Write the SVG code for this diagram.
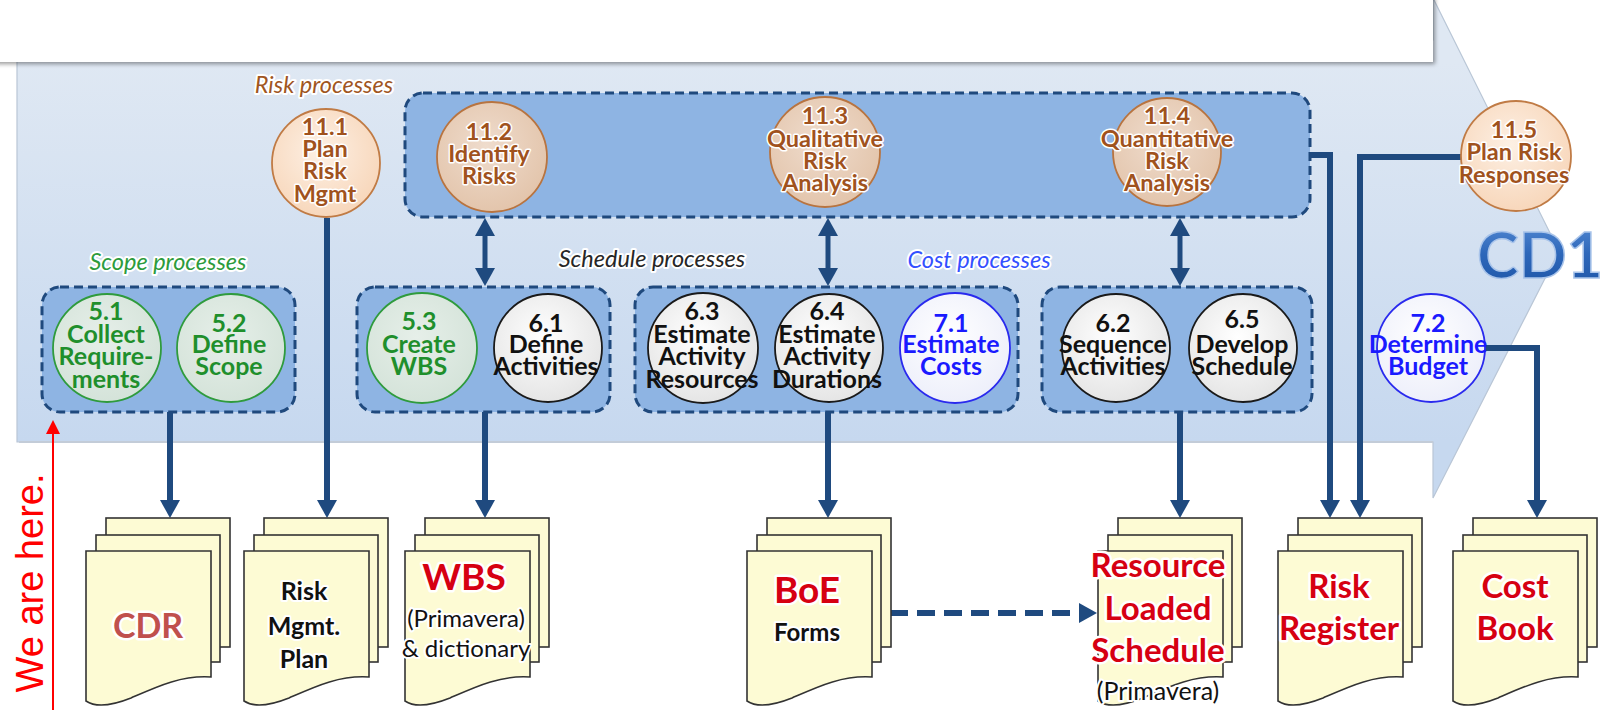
<svg xmlns="http://www.w3.org/2000/svg" width="1603" height="710" viewBox="0 0 1603 710">
<defs>
  <linearGradient id="arrowGrad" x1="0" y1="62" x2="0" y2="442" gradientUnits="userSpaceOnUse">
    <stop offset="0" stop-color="#dfe8f3"/>
    <stop offset="1" stop-color="#c6d8ef"/>
  </linearGradient>
  <radialGradient id="peach" cx="0.45" cy="0.4" r="0.65">
    <stop offset="0" stop-color="#fdf0e4"/>
    <stop offset="1" stop-color="#f7d5b8"/>
  </radialGradient>
  <radialGradient id="tan" cx="0.45" cy="0.4" r="0.65">
    <stop offset="0" stop-color="#efdccd"/>
    <stop offset="1" stop-color="#e2c3a9"/>
  </radialGradient>
  <radialGradient id="greenFill" cx="0.45" cy="0.4" r="0.65">
    <stop offset="0" stop-color="#e6efe9"/>
    <stop offset="1" stop-color="#d3e2d8"/>
  </radialGradient>
  <radialGradient id="whiteFill" cx="0.45" cy="0.4" r="0.65">
    <stop offset="0" stop-color="#ffffff"/>
    <stop offset="1" stop-color="#e3e3e3"/>
  </radialGradient>
  <radialGradient id="blueFill" cx="0.45" cy="0.4" r="0.65">
    <stop offset="0" stop-color="#ffffff"/>
    <stop offset="1" stop-color="#eceefa"/>
  </radialGradient>
  <linearGradient id="cdGrad" x1="0" y1="0" x2="0" y2="1">
    <stop offset="0" stop-color="#5a8fd6"/>
    <stop offset="0.5" stop-color="#2d67ba"/>
    <stop offset="1" stop-color="#1d55a6"/>
  </linearGradient>
  <filter id="shadow" x="-5%" y="-20%" width="110%" height="150%">
    <feDropShadow dx="2" dy="2" stdDeviation="2" flood-color="#000" flood-opacity="0.4"/>
  </filter>
  <filter id="soft" x="-10%" y="-10%" width="120%" height="120%">
    <feGaussianBlur stdDeviation="1.2"/>
  </filter>
  <marker id="ah" viewBox="0 0 18 20" refX="4" refY="10" markerWidth="18" markerHeight="20" markerUnits="userSpaceOnUse" orient="auto-start-reverse">
    <path d="M0,0 L18,10 L0,20 Z" fill="#1f4a7f"/>
  </marker>
  <marker id="ahRed" viewBox="0 0 14 14" refX="2" refY="7" markerWidth="14" markerHeight="14" markerUnits="userSpaceOnUse" orient="auto">
    <path d="M0,0 L14,7 L0,14 Z" fill="#ff0000"/>
  </marker>
  <g id="docStack">
    <rect x="20" y="-33" width="124" height="129" fill="#fdfbd4" stroke="#333" stroke-width="1.6"/>
    <rect x="10" y="-16" width="124" height="127" fill="#fdfbd4" stroke="#333" stroke-width="1.6"/>
    <path d="M0,0 H125 V126 C95,124 70,136 45,147 C30,153 12,158 0,150 Z" fill="#fdfbd4" stroke="#333" stroke-width="1.6"/>
  </g>
  <style>
    .box { fill: #8eb4e3; stroke: #1f497d; stroke-width: 3; stroke-dasharray: 9 5; }
    .conn { fill: none; stroke: #1f4a7f; stroke-width: 6; }
    .dashconn { fill: none; stroke: #1f4a7f; stroke-width: 6; stroke-dasharray: 18 9; }
    .riskC { fill: url(#peach); stroke: #c07b45; stroke-width: 1.8; }
    .riskIn { fill: url(#tan); stroke: #b87440; stroke-width: 1.8; }
    .greenC { fill: url(#greenFill); stroke: #2f9b3d; stroke-width: 1.8; }
    .blackC { fill: url(#whiteFill); stroke: #1a1a1a; stroke-width: 1.8; }
    .blueC { fill: url(#blueFill); stroke: #2a2aee; stroke-width: 1.8; }
    text { font-family: Lato, "Liberation Sans", sans-serif; text-anchor: middle; }
    .ct { font-weight: bold; font-size: 25px; }
    .rt { font-weight: bold; font-size: 23.5px; fill: #a0521d; stroke: #fff; stroke-width: 3; stroke-linejoin: round; paint-order: stroke; }
    .gt { fill: #1f8f2c; }
    .kt { fill: #111; }
    .bt { fill: #1a1aff; }
    .lbl { font-style: italic; font-size: 23.5px; stroke: #fff; stroke-width: 4; stroke-linejoin: round; paint-order: stroke; }
    .dred { font-weight: bold; fill: #d60012; stroke: #fff; stroke-width: 5; stroke-linejoin: round; paint-order: stroke; }
    .dblk { fill: #111; stroke: #fff; stroke-width: 4; stroke-linejoin: round; paint-order: stroke; }
  </style>
</defs>

<!-- big process arrow -->
<g id="process-arrow">
  <polygon points="17,40 1433,40 1433,-2 1559,251 1433,498 1433,442 17,442" fill="url(#arrowGrad)" stroke="#b9c6d6" stroke-width="1.2"/>
  <line x1="19" y1="60" x2="19" y2="442" stroke="#8c8c8c" stroke-width="3" filter="url(#soft)"/>
  <line x1="19" y1="442" x2="1433" y2="442" stroke="#c3ccd8" stroke-width="2"/>
  <rect x="-20" y="-20" width="1453" height="82" fill="#ffffff" filter="url(#shadow)"/>
</g>

<!-- We are here -->
<g id="we-are-here">
  <line x1="53" y1="710" x2="53" y2="432" stroke="#ff0000" stroke-width="2" marker-end="url(#ahRed)"/>
  <text transform="translate(43,583) rotate(-90)" style="font-family:'Liberation Sans',Arial,sans-serif;font-size:38px;fill:#ff0000">We are here.</text>
</g>

<!-- labels -->
<text class="lbl" x="324" y="93" fill="#a0561f">Risk processes</text>
<text class="lbl" x="168" y="270" fill="#2c9b3c">Scope processes</text>
<text class="lbl" x="652" y="267" fill="#262626">Schedule processes</text>
<text class="lbl" x="979" y="268" fill="#3350ff">Cost processes</text>

<g id="cd1">
  <text x="1477" y="278" style="text-anchor:start;font-weight:bold;font-size:63px;fill:url(#cdGrad);stroke:#a9c4ea;stroke-width:1.5">CD1</text>
</g>

<!-- group boxes -->
<g id="grp-risk"><rect class="box" x="405" y="93" width="905" height="124" rx="18"/></g>
<g id="grp-scope"><rect class="box" x="42" y="287" width="253" height="125" rx="18"/></g>
<g id="grp-wbs-activities"><rect class="box" x="357" y="287" width="253" height="125" rx="18"/></g>
<g id="grp-estimates"><rect class="box" x="635" y="287" width="383" height="125" rx="18"/></g>
<g id="grp-schedule"><rect class="box" x="1042" y="287" width="270" height="125" rx="18"/></g>

<!-- connectors -->
<g id="connectors">
  <path class="conn" d="M170,412 V504" marker-end="url(#ah)"/>
  <path class="conn" d="M327,218 V504" marker-end="url(#ah)"/>
  <path class="conn" d="M485,412 V504" marker-end="url(#ah)"/>
  <path class="conn" d="M828,412 V504" marker-end="url(#ah)"/>
  <path class="conn" d="M1180,412 V504" marker-end="url(#ah)"/>
  <path class="conn" d="M1310,155 H1330 V504" marker-end="url(#ah)"/>
  <path class="conn" d="M1461,157 H1360 V504" marker-end="url(#ah)"/>
  <path class="conn" d="M1485,348 H1537 V504" marker-end="url(#ah)"/>
  <path class="conn" style="stroke-width:5" d="M485,232 V272" marker-start="url(#ah)" marker-end="url(#ah)"/>
  <path class="conn" style="stroke-width:5" d="M828,232 V272" marker-start="url(#ah)" marker-end="url(#ah)"/>
  <path class="conn" style="stroke-width:5" d="M1180,232 V272" marker-start="url(#ah)" marker-end="url(#ah)"/>
  <path class="dashconn" d="M890,613 H1083" marker-end="url(#ah)"/>
</g>

<!-- risk nodes -->
<g id="n11-1">
  <circle class="riskC" cx="326" cy="163" r="54"/>
  <text class="rt"><tspan x="325" y="135">11.1</tspan><tspan x="325" y="157">Plan</tspan><tspan x="325" y="179">Risk</tspan><tspan x="325" y="202">Mgmt</tspan></text>
</g>
<g id="n11-2">
  <circle class="riskIn" cx="492" cy="157" r="55"/>
  <text class="rt"><tspan x="489" y="140">11.2</tspan><tspan x="489" y="162">Identify</tspan><tspan x="489" y="184">Risks</tspan></text>
</g>
<g id="n11-3">
  <circle class="riskIn" cx="825" cy="152" r="55"/>
  <text class="rt"><tspan x="825" y="124">11.3</tspan><tspan x="825" y="147">Qualitative</tspan><tspan x="825" y="169">Risk</tspan><tspan x="825" y="191">Analysis</tspan></text>
</g>
<g id="n11-4">
  <circle class="riskIn" cx="1167" cy="152" r="54"/>
  <text class="rt"><tspan x="1167" y="124">11.4</tspan><tspan x="1167" y="147">Quantitative</tspan><tspan x="1167" y="169">Risk</tspan><tspan x="1167" y="191">Analysis</tspan></text>
</g>
<g id="n11-5">
  <circle class="riskC" cx="1516" cy="156" r="55"/>
  <text class="rt"><tspan x="1514" y="138">11.5</tspan><tspan x="1514" y="160">Plan Risk</tspan><tspan x="1514" y="183">Responses</tspan></text>
</g>

<!-- scope nodes -->
<g id="n5-1">
  <circle class="greenC" cx="107" cy="348" r="54"/>
  <text class="ct gt"><tspan x="106" y="320">5.1</tspan><tspan x="106" y="343">Collect</tspan><tspan x="106" y="365">Require-</tspan><tspan x="106" y="388">ments</tspan></text>
</g>
<g id="n5-2">
  <circle class="greenC" cx="231" cy="348" r="54"/>
  <text class="ct gt"><tspan x="229" y="332">5.2</tspan><tspan x="229" y="353">Define</tspan><tspan x="229" y="375">Scope</tspan></text>
</g>
<g id="n5-3">
  <circle class="greenC" cx="422" cy="348" r="55"/>
  <text class="ct gt"><tspan x="419" y="330">5.3</tspan><tspan x="419" y="353">Create</tspan><tspan x="419" y="375">WBS</tspan></text>
</g>
<g id="n6-1">
  <circle class="blackC" cx="548" cy="348" r="54"/>
  <text class="ct kt"><tspan x="546" y="332">6.1</tspan><tspan x="546" y="353">Define</tspan><tspan x="546" y="375">Activities</tspan></text>
</g>
<g id="n6-3">
  <circle class="blackC" cx="703" cy="348" r="55"/>
  <text class="ct kt"><tspan x="702" y="320">6.3</tspan><tspan x="702" y="343">Estimate</tspan><tspan x="702" y="365">Activity</tspan><tspan x="702" y="388">Resources</tspan></text>
</g>
<g id="n6-4">
  <circle class="blackC" cx="829" cy="348" r="54"/>
  <text class="ct kt"><tspan x="827" y="320">6.4</tspan><tspan x="827" y="343">Estimate</tspan><tspan x="827" y="365">Activity</tspan><tspan x="827" y="388">Durations</tspan></text>
</g>
<g id="n7-1">
  <circle class="blueC" cx="955" cy="348" r="55"/>
  <text class="ct bt"><tspan x="951" y="332">7.1</tspan><tspan x="951" y="353">Estimate</tspan><tspan x="951" y="375">Costs</tspan></text>
</g>
<g id="n6-2">
  <circle class="blackC" cx="1116" cy="348" r="54"/>
  <text class="ct kt"><tspan x="1113" y="332">6.2</tspan><tspan x="1113" y="353">Sequence</tspan><tspan x="1113" y="375">Activities</tspan></text>
</g>
<g id="n6-5">
  <circle class="blackC" cx="1243" cy="348" r="54"/>
  <text class="ct kt"><tspan x="1242" y="328">6.5</tspan><tspan x="1242" y="353">Develop</tspan><tspan x="1242" y="375">Schedule</tspan></text>
</g>
<g id="n7-2">
  <circle class="blueC" cx="1431" cy="348" r="54"/>
  <text class="ct bt"><tspan x="1428" y="332">7.2</tspan><tspan x="1428" y="353">Determine</tspan><tspan x="1428" y="375">Budget</tspan></text>
</g>

<!-- documents -->
<g id="doc-cdr">
  <use href="#docStack" transform="translate(86,551)"/>
  <text class="dred" x="148" y="638" style="font-size:34px;fill:#c0504d">CDR</text>
</g>
<g id="doc-risk-plan">
  <use href="#docStack" transform="translate(244,551)"/>
  <text class="dblk" style="font-weight:bold;font-size:25px"><tspan x="304" y="600">Risk</tspan><tspan x="304" y="635">Mgmt.</tspan><tspan x="304" y="668">Plan</tspan></text>
</g>
<g id="doc-wbs">
  <use href="#docStack" transform="translate(405,551)"/>
  <text class="dred" x="464" y="590" style="font-size:37px">WBS</text>
  <text class="dblk" style="font-size:24px"><tspan x="466" y="627">(Primavera)</tspan><tspan x="466" y="657">&amp; dictionary</tspan></text>
</g>
<g id="doc-boe">
  <use href="#docStack" transform="translate(747,551)"/>
  <text class="dred" x="807" y="603" style="font-size:37px">BoE</text>
  <text class="dblk" x="807" y="641" style="font-weight:bold;font-size:24px">Forms</text>
</g>
<g id="doc-rls">
  <use href="#docStack" transform="translate(1098,551)"/>
  <text class="dred" style="font-size:33px"><tspan x="1158" y="577">Resource</tspan><tspan x="1158" y="620">Loaded</tspan><tspan x="1158" y="662">Schedule</tspan></text>
  <text class="dblk" x="1158" y="700" style="font-size:25px">(Primavera)</text>
</g>
<g id="doc-risk-register">
  <use href="#docStack" transform="translate(1278,551)"/>
  <text class="dred" style="font-size:33px"><tspan x="1339" y="598">Risk</tspan><tspan x="1339" y="640">Register</tspan></text>
</g>
<g id="doc-cost-book">
  <use href="#docStack" transform="translate(1453,551)"/>
  <text class="dred" style="font-size:33px"><tspan x="1515" y="598">Cost</tspan><tspan x="1515" y="640">Book</tspan></text>
</g>
</svg>
